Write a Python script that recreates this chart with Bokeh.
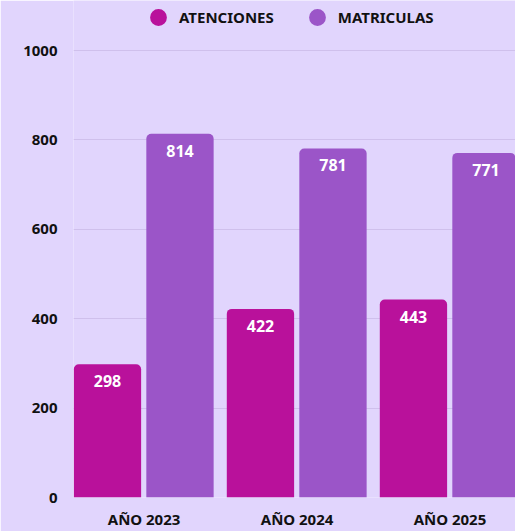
from bokeh.plotting import figure
from bokeh.models import Range1d, FixedTicker, Legend, LegendItem, ColumnDataSource
from bokeh.transform import dodge
from bokeh.core.properties import value
from bokeh.embed import file_html
from bokeh.resources import INLINE

years = ["AÑO 2023", "AÑO 2024", "AÑO 2025"]
atenciones = [298, 422, 443]
matriculas = [814, 781, 771]
series_names = ["ATENCIONES", "MATRICULAS"]
y_ticks = [0, 200, 400, 600, 800, 1000]

BG = "#E1D5FD"
GRID = "#CFC0EC"
C1 = "#B9119B"
C2 = "#9B55C8"
FONT = "Noto Sans"

idx = list(range(len(years)))
src = ColumnDataSource(dict(
    x=idx,
    a=atenciones,
    m=matriculas,
    a_txt=[str(v) for v in atenciones],
    m_txt=[str(v) for v in matriculas],
))

p = figure(width=515, height=531, output_backend="svg", toolbar_location=None,
           x_range=Range1d(-0.461, 2.428), y_range=Range1d(0, 1112),
           min_border_left=73, min_border_right=0, min_border_bottom=34,
           min_border_top=0)
p.background_fill_color = BG
p.border_fill_color = BG
p.outline_line_color = None

W = 0.44
OFF1 = -0.239
OFF2 = 0.235
p.vbar(x=dodge("x", OFF1, range=p.x_range), top="a", width=W, bottom=0,
       source=src, fill_color=C1, line_color=None, border_radius=(5, 5, 0, 0))
p.vbar(x=dodge("x", OFF2, range=p.x_range), top="m", width=W, bottom=0,
       source=src, fill_color=C2, line_color=None, border_radius=(5, 5, 0, 0))

p.text(x=dodge("x", OFF1, range=p.x_range), y="a", text="a_txt", source=src,
       text_color="white", text_font=value(FONT), text_font_style="bold",
       text_font_size="16px", text_align="center", text_baseline="middle",
       y_offset=17)
p.text(x=dodge("x", OFF2, range=p.x_range), y="m", text="m_txt", source=src,
       text_color="white", text_font=value(FONT), text_font_style="bold",
       text_font_size="16px", text_align="center", text_baseline="middle",
       y_offset=17)

# legend swatches: one hidden point per series, below the visible y range
r1 = p.scatter(x=[idx[0]], y=[-max(matriculas)], marker="circle", size=18,
               fill_color=C1, line_color=None)
r2 = p.scatter(x=[idx[0]], y=[-max(matriculas)], marker="circle", size=18,
               fill_color=C2, line_color=None)
legend = Legend(items=[LegendItem(label=series_names[0], renderers=[r1]),
                       LegendItem(label=series_names[1], renderers=[r2])],
                orientation="horizontal", location=(64, 459),
                glyph_width=42, glyph_height=42, padding=0, margin=0,
                spacing=22, label_standoff=-3,
                background_fill_alpha=0, border_line_color=None,
                label_text_font=FONT, label_text_font_style="bold",
                label_text_font_size="15px", label_text_color="#111111")
p.add_layout(legend, "center")

p.xaxis.ticker = FixedTicker(ticks=idx)
p.xaxis.major_label_overrides = {i: years[i] for i in idx}
p.yaxis.ticker = FixedTicker(ticks=y_ticks)
for ax in (p.xaxis[0], p.yaxis[0]):
    ax.axis_line_color = None
    ax.major_tick_line_color = None
    ax.minor_tick_line_color = None
    ax.major_tick_out = 0
    ax.major_tick_in = 0
    ax.minor_tick_out = 0
    ax.minor_tick_in = 0
    ax.major_label_text_font = FONT
    ax.major_label_text_font_style = "bold"
    ax.major_label_text_font_size = "15px"
    ax.major_label_text_color = "#111111"
p.xaxis.major_label_standoff = 11
p.yaxis.major_label_standoff = 16

p.xgrid.grid_line_color = None
p.ygrid.ticker = FixedTicker(ticks=y_ticks)
p.ygrid.grid_line_color = GRID
p.ygrid.grid_line_width = 1

open("out.html", "w").write(file_html(p, INLINE))
